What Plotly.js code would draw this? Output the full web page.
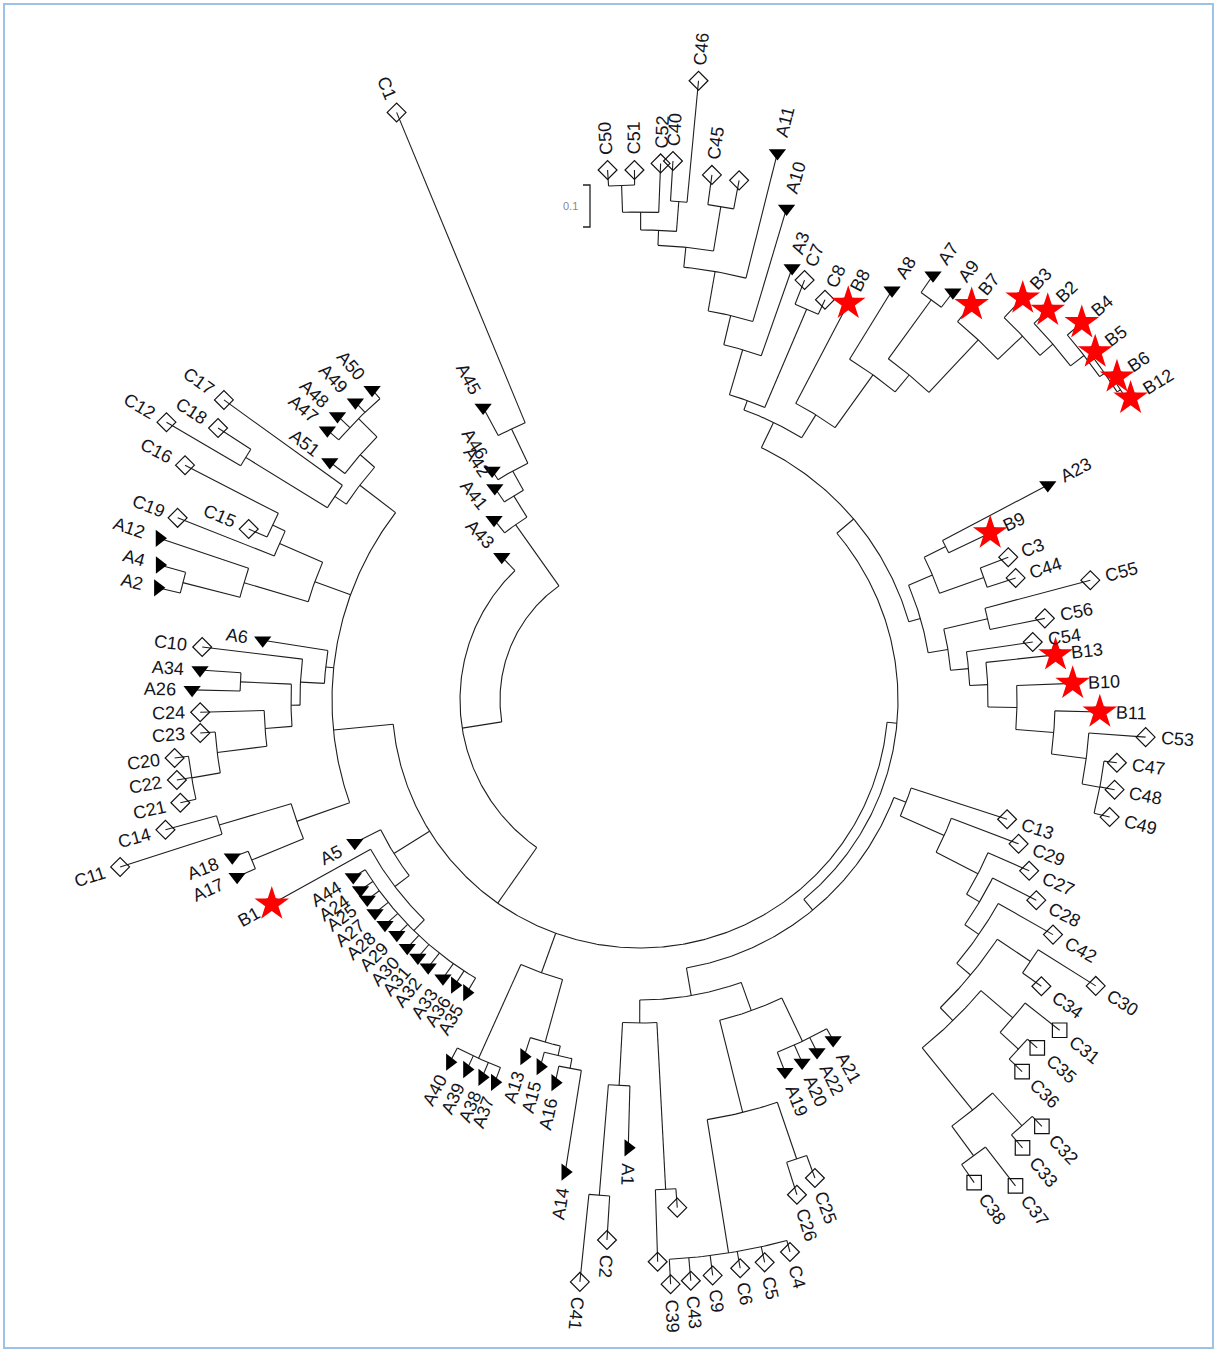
<!DOCTYPE html>
<html><head><meta charset="utf-8">
<script src="https://cdn.plot.ly/plotly-3.0.1.min.js"></script>
<style>html,body{margin:0;padding:0;background:#fff}#chart{width:1216px;height:1351px}</style>
</head><body><div id="chart"></div>
<script>
// ---------------- DATA ----------------
// Leaves: id, tip angle (degrees, counter-clockwise from 3 o'clock), tip depth (42 units = 0.1 substitutions)
const leafId = ['C50','C51','C52','C40','C46','C45','_u1','A11','A10','A3','C7','C8','B8','A8','A7','A9','B7','B3','B2','B4','B5','B6','B12',
'A23','B9','C3','C44','C55','C56','C54','B13','B10','B11','C53','C47','C48','C49',
'C13','C29','C27','C28','C42','C30','C34','C31','C35','C36','C32','C33','C37','C38',
'A21','A22','A20','A19','C25','C26','C4','C5','C6','C9','C43','C39','_u2','_u3','A1','C2','C41',
'A14','A16','A15','A13','A37','A38','A39','A40','A35','A36','A33','A32','A31','A30','A29','A28','A27','A25','A24','A44','B1','A5','A17','A18','C11','C14',
'C21','C22','C20','C23','C24','A26','A34','C10','A6','A2','A4','A12','C19','C15','C16','C12','C18','C17','A51','A47','A48','A49','A50',
'A43','A41','A42','A46','A45','C1'];
const leafAngle = [93.5,90.6,87.8,86.5,84.6,82.2,79.2,75.9,73.4,70.6,68.6,65.2,62.3,58.4,55.4,52.5,50.0,46.4,43.7,40.5,37.4,34.1,31.6,
27.8,25.5,21.2,18.0,14.9,11.4,8.4,6.2,2.2,-1.5,-4.2,-7.5,-10.7,-14.0,
-18.0,-20.8,-23.7,-26.8,-29.6,-32.1,-35.5,-38.2,-41.2,-44.2,-46.7,-49.5,-52.3,-55.3,
-60.4,-63.3,-65.9,-68.7,-69.9,-72.4,-74.8,-77.5,-80.0,-82.8,-85.0,-87.0,-85.8,-88.2,-91.5,-93.5,-95.9,
-99.0,-102.5,-105.2,-108.0,-110.8,-112.7,-115.1,-117.7,-120.6,-123.0,-125.3,-128.4,-130.8,-133.2,-136.0,-138.6,-141.2,-143.8,-145.8,-148.3,-151.0,-153.4,-156.3,-158.9,-162.2,-164.7,
-167.4,-170.2,-172.9,-175.7,-178.4,-181.3,-183.9,-186.9,-189.0,-193.1,-195.7,-198.6,-201.5,-203.6,-207.3,-210.4,-212.8,-215.8,-217.5,-220.8,-223.2,-226.3,-229.2,
-226.0,-231.0,-235.6,-237.2,-241.8,-247.5];
const leafDepth = [531,530,537,540,622,530,529,564,513,458,451,441,448,481,516,514,516,555,564,581,573,576,576,
461,388,395,395,466,413,397,418,433,460,507,481,483,484,
386,405,425,444,475,538,493,534,528,533,586,589,614,587,
391,394,397,399,509,519,572,576,577,580,583,585,509,562,448,541,585,
478,392,380,375,409,409,408,409,340,340,341,341,340,340,338,340,340,338,338,337,421,319,440,437,546,492,
471,470,469,441,440,448,441,441,382,495,499,507,497,427,512,549,502,513,391,413,415,412,410,
199,232,257,273,332,636];

// Internal nodes: id, depth, children, optional fixed attachment angle
const nodeId = ['T1','T2','T2b','T3','TC45','T4','T5','T6','T7','TC78','T8','TA79','BG6','BG5','BG4','BG3','BG2','BG','TB1','TB2','TB3','TB4',
'R1','R3C','R2','RC56','R9','R8','R7','R6','R5','R4','R3','RR','UR',
'LC3233','LC3738','L11','LC3536','L9','L8','LC3034','L6','L5','L4','L3','L2','L1',
'BA','BC25','BC4','BC','BB','BL1a','BL1c','BL1b','BL1','NB','RM','RT',
'RGn3','RGn2','RGn1','LG','BL2','COMB','LLb','LLa','C1411','A1718','NLL1',
'LC20','L23','L2324','LA3426','LL3','LL4','LL5','UA24','UA12','UC1615','UC19','U1','U2b','U2','UA4750','UA','U3','LEFT',
'P6','P5','P4','P3','P2','P1','ROOT'];
const nodeDepth = [515,488,500,470,500,455,435,395,365,425,318,495,572,568,562,545,528,494,422,400,335,308,
342,365,318,357,468,450,415,377,348,330,312,292,280,
572,565,528,515,490,448,470,430,412,395,380,333,285,
378,485,560,425,330,490,497,386,323,300,272,258,
375,365,355,393,290,323,308,290,439,420,364,
455,426,376,400,349,340,316,472,413,407,393,346,463,367,398,372,353,308,
300,262,240,215,140,180,248];
const nodeKids = ['C50 C51','T1 C52','C40 C46','T2 T2b','C45 _u1','T3 TC45','T4 A11','T5 A10','T6 A3','C7 C8','T7 TC78','A7 A9','B6 B12','B5 BG6','B4 BG5','B2 BG4','B3 BG3','B7 BG2','TA79 BG','A8 TB1','B8 TB2','T8 TB3',
'A23 B9','C3 C44','R1 R3C','C55 C56','C47 C48 C49','C53 R9','B11 R8','B10 R7','B13 R6','C54 R5','RC56 R4','R2 R3','TB4 RR',
'C32 C33','C37 C38','LC3233 LC3738','C35 C36','C31 LC3536','L9 L11','C30 C34','LC3034 L8','C42 L6','C28 L5','C27 L4','C29 L3','C13 L2',
'A21 A22 A20 A19','C25 C26','C4 C5 C6 C9 C43 C39','BC25 BC4','BA BC','_u2 _u3','C2 C41','A1 BL1c','BL1a BL1b','BB BL1','L1 NB','UR RM',
'A16 A14','A15 RGn3','A13 RGn2','A37 A38 A39 A40','RGn1 LG','A35 A36 A33 A32 A31 A30 A29 A28 A27 A25 A24 A44','B1 COMB','A5 LLb','C14 C11','A17 A18','C1411 A1718',
'C21 C22 C20','C23 LC20','C24 L23','A26 A34','LA3426 L2324','C10 LL3','A6 LL4','A2 A4','A12 UA24','C15 C16','C19 UC1615','UC19 UA12','C12 C18','C17 U2b','A47 A48 A49 A50','A51 UA4750','U2 UA','NLL1 LL5 U1 U3',
'A45 C1','A46 P6','A42 P5','A41 P4','P3','A43 P2','RT BL2 LLa P1 LEFT'];
const nodeFixed = {LEFT:-174.4, P2:-171, P1:-125};

const scaleBarValue = '0.1';
const scaleBarDepth = 42;

// ---------------- LAYOUT ----------------
const toRad = d => d*Math.PI/180;
const norm = a => ((a+180)%360+360)%360-180;
const leaf = {};
leafId.forEach((id,i)=>{ leaf[id] = {a:leafAngle[i], r:leafDepth[i]}; });
const node = {};
nodeId.forEach((id,i)=>{ node[id] = {r:nodeDepth[i], kids:nodeKids[i].split(' '), fix:(id in nodeFixed)?nodeFixed[id]:null}; });
function angleOf(id){
  if (leaf[id]) return leaf[id].a;
  const n = node[id];
  if (n.a === undefined){
    const as = n.kids.map(angleOf);
    const lo = Math.min(...as), hi = Math.max(...as);
    n.a = (n.fix === null) ? (lo+hi)/2 : n.fix;
    n.lo = Math.min(lo, n.a); n.hi = Math.max(hi, n.a);
  }
  return n.a;
}
const depthOf = id => leaf[id] ? leaf[id].r : node[id].r;
const pt = (r,a) => [r*Math.cos(toRad(a)), r*Math.sin(toRad(a))];

const ex=[], ey=[];
nodeId.forEach(id=>{
  angleOf(id);
  const n = node[id];
  const steps = Math.max(2, Math.ceil((n.hi-n.lo)/0.5));
  for (let i=0;i<=steps;i++){ const p = pt(n.r, n.lo+(n.hi-n.lo)*i/steps); ex.push(p[0]); ey.push(p[1]); }
  ex.push(null); ey.push(null);
  n.kids.forEach(k=>{
    const a = angleOf(k);
    const p1 = pt(n.r,a), p2 = pt(depthOf(k),a);
    ex.push(p1[0],p2[0],null); ey.push(p1[1],p2[1],null);
  });
});

const tri={x:[],y:[],s:[]}, dia={x:[],y:[],s:[]}, star={x:[],y:[]};
leafId.forEach(id=>{
  const L = leaf[id]; const p = pt(L.r, L.a); const b = norm(L.a);
  if (id[0]==='A'){
    tri.x.push(p[0]); tri.y.push(p[1]);
    tri.s.push(((b>=-125&&b<=-85)||(b>=155&&b<=170))?'triangle-right':'triangle-down');
  } else if (id[0]==='B'){ star.x.push(p[0]); star.y.push(p[1]); }
  else { dia.x.push(p[0]); dia.y.push(p[1]); dia.s.push((b>-57&&b<-37)?'square-open':'diamond-open'); }
});

const FONT = 'Arial, "Liberation Sans", sans-serif';
const annotations = [];
leafId.forEach(id=>{
  if (id[0]==='_') return;
  const L = leaf[id]; const b = norm(L.a);
  const p = pt(L.r + 15 + id.length*5.6, L.a);
  const right = b>-97 && b<104;
  annotations.push({x:p[0], y:p[1], xref:'x', yref:'y', text:id, showarrow:false,
    textangle: norm(right ? -b : 180-b), xanchor:'center', yanchor:'middle',
    font:{family:FONT, size:18, color:'#141420'}});
});
// scale bar
const sbX = -50, sbY = 473;
annotations.push({x:sbX-20, y:sbY+scaleBarDepth/2, xref:'x', yref:'y', text:scaleBarValue, showarrow:false,
  xanchor:'center', yanchor:'middle', font:{family:FONT, size:11, color:'#888'}});

const traces = [
  {type:'scatter', mode:'lines', x:ex, y:ey, line:{color:'#1e1e1e', width:1.1}, hoverinfo:'skip'},
  {type:'scatter', mode:'lines', x:[sbX-7,sbX,sbX,sbX-7], y:[sbY+scaleBarDepth,sbY+scaleBarDepth,sbY,sbY], line:{color:'#222', width:1.3}, hoverinfo:'skip'},
  {type:'scatter', mode:'markers', x:dia.x, y:dia.y, marker:{symbol:dia.s, size:14.5, color:'#111', line:{width:1.2, color:'#111'}}, hoverinfo:'skip'},
  {type:'scatter', mode:'markers', x:tri.x, y:tri.y, marker:{symbol:tri.s, size:15, color:'#000'}, hoverinfo:'skip'},
  {type:'scatter', mode:'markers', x:star.x, y:star.y, marker:{symbol:'square-open', size:10, color:'#111', line:{width:1.1,color:'#111'}}, hoverinfo:'skip'},
  {type:'scatter', mode:'markers', x:star.x, y:star.y, marker:{symbol:'star', size:26, color:'#ff0000', line:{width:0}}, hoverinfo:'skip'}
];
const layout = {
  width:1216, height:1351, margin:{l:0,r:0,t:0,b:0},
  paper_bgcolor:'#fff', plot_bgcolor:'#fff', showlegend:false,
  xaxis:{range:[-640,576], visible:false, fixedrange:true},
  yaxis:{range:[-651,700], visible:false, fixedrange:true},
  annotations: annotations,
  shapes:[{type:'rect', xref:'paper', yref:'paper', x0:0.0033, x1:0.9975, y0:0.0022, y1:0.997,
    line:{color:'#9cc2e6', width:2}, fillcolor:'rgba(0,0,0,0)'}]
};
Plotly.newPlot('chart', traces, layout, {staticPlot:true, displayModeBar:false});
</script></body></html>
